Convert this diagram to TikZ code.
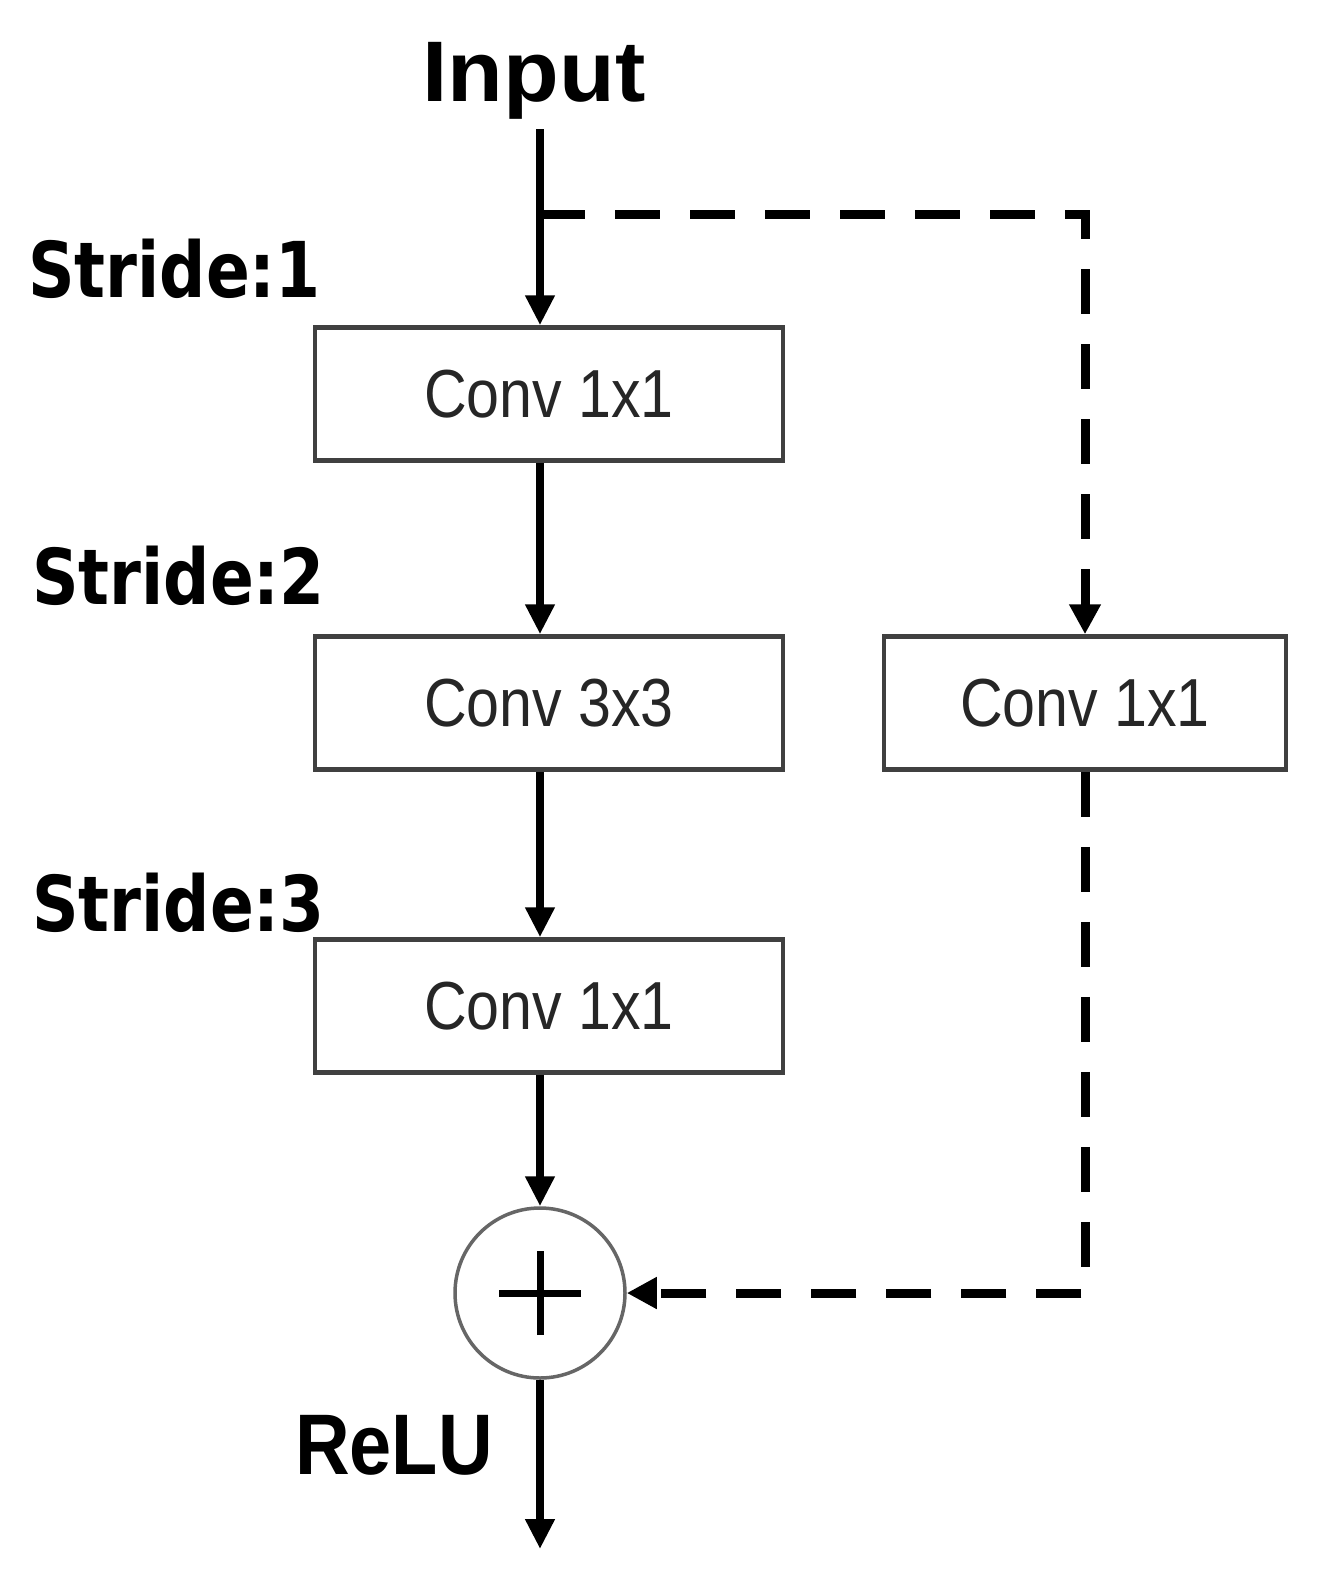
\documentclass[tikz,border=0pt]{standalone}
\usepackage{fontspec}
\usepackage{tikz}
\usetikzlibrary{shapes,arrows.meta}
\newfontfamily\stridefont{DejaVu Sans}[FakeStretch=0.84]
\newfontfamily\convfont{Liberation Sans}[FakeStretch=0.87]
\newfontfamily\inputfont{Liberation Sans}[FakeStretch=1.06]
\newfontfamily\relufont{Liberation Sans}[FakeStretch=0.88]
\newcommand{\stridetxt}[1]{{\stridefont\bfseries\fontsize{77}{80}\selectfont #1}}

\tikzset{
  conv/.style={draw=black!75, line width=4.5pt, minimum width=468pt, minimum height=133pt,
    inner sep=0pt, text=black!85, font=\convfont\fontsize{68}{72}\selectfont},
  stridelbl/.style={anchor=base west, inner sep=0pt},
  arr/.style={line width=7.5pt, -{Triangle[length=30pt,width=28pt]}},
  shortcut/.style={line width=9pt, dash pattern=on 45pt off 30pt,
    -{Triangle[length=30pt,width=30pt]}},
  sum/.style={circle, draw=black!60, line width=3.5pt, minimum size=170pt, inner sep=0pt},
}

\begin{document}
\begin{tikzpicture}[x=1pt, y=1pt]
    \useasboundingbox (0,0) rectangle (1323,-1577);

	\node[anchor=base, inner sep=10pt, font=\inputfont\bfseries\fontsize{86}{90}\selectfont]
	    (input) at (534,-101) {Input};
	\node[conv] (conv1) at (549,-394) {Conv 1x1};
	\node[conv, below of=conv1, node distance=309pt] (conv2) {Conv 3x3};
	\node[conv, below of=conv2, node distance=303pt] (conv3) {Conv 1x1};
	\node[conv, right of=conv2, node distance=536pt, minimum width=402pt] (proj) {Conv 1x1};
	\node[sum] (add) at (540,-1293) {};

	\coordinate (tap) at (540,-214);
	\coordinate (out) at (540,-1549);

	\node[stridelbl] (s1) at (28,-297) {\stridetxt{Stride:1}};
	\node[stridelbl] (s2) at (32,-604) {\stridetxt{Stride:2}};
	\node[stridelbl] (s3) at (32,-931) {\stridetxt{Stride:3}};
	\node[anchor=base east, inner sep=0pt, font=\relufont\bfseries\fontsize{86}{90}\selectfont]
	    (relu) at (493,-1474) {ReLU};

    \draw[arr] (input.south -| tap) -- (conv1.north -| tap);
    \draw[arr] (conv1.south -| tap) -- (conv2.north -| tap);
    \draw[arr] (conv2.south -| tap) -- (conv3.north -| tap);
    \draw[arr] (conv3.south -| tap) -- (add);
    \draw[arr] (add) -- (out);

    \draw[shortcut] (tap) -| (proj);
    \draw[shortcut] (proj) |- (add);

    % plus sign
    \draw[line width=7pt] (add.center) ++(-41,0) -- ++(82,0);
    \draw[line width=7pt] (add.center) ++(0,-42) -- ++(0,84);
\end{tikzpicture}
\end{document}
